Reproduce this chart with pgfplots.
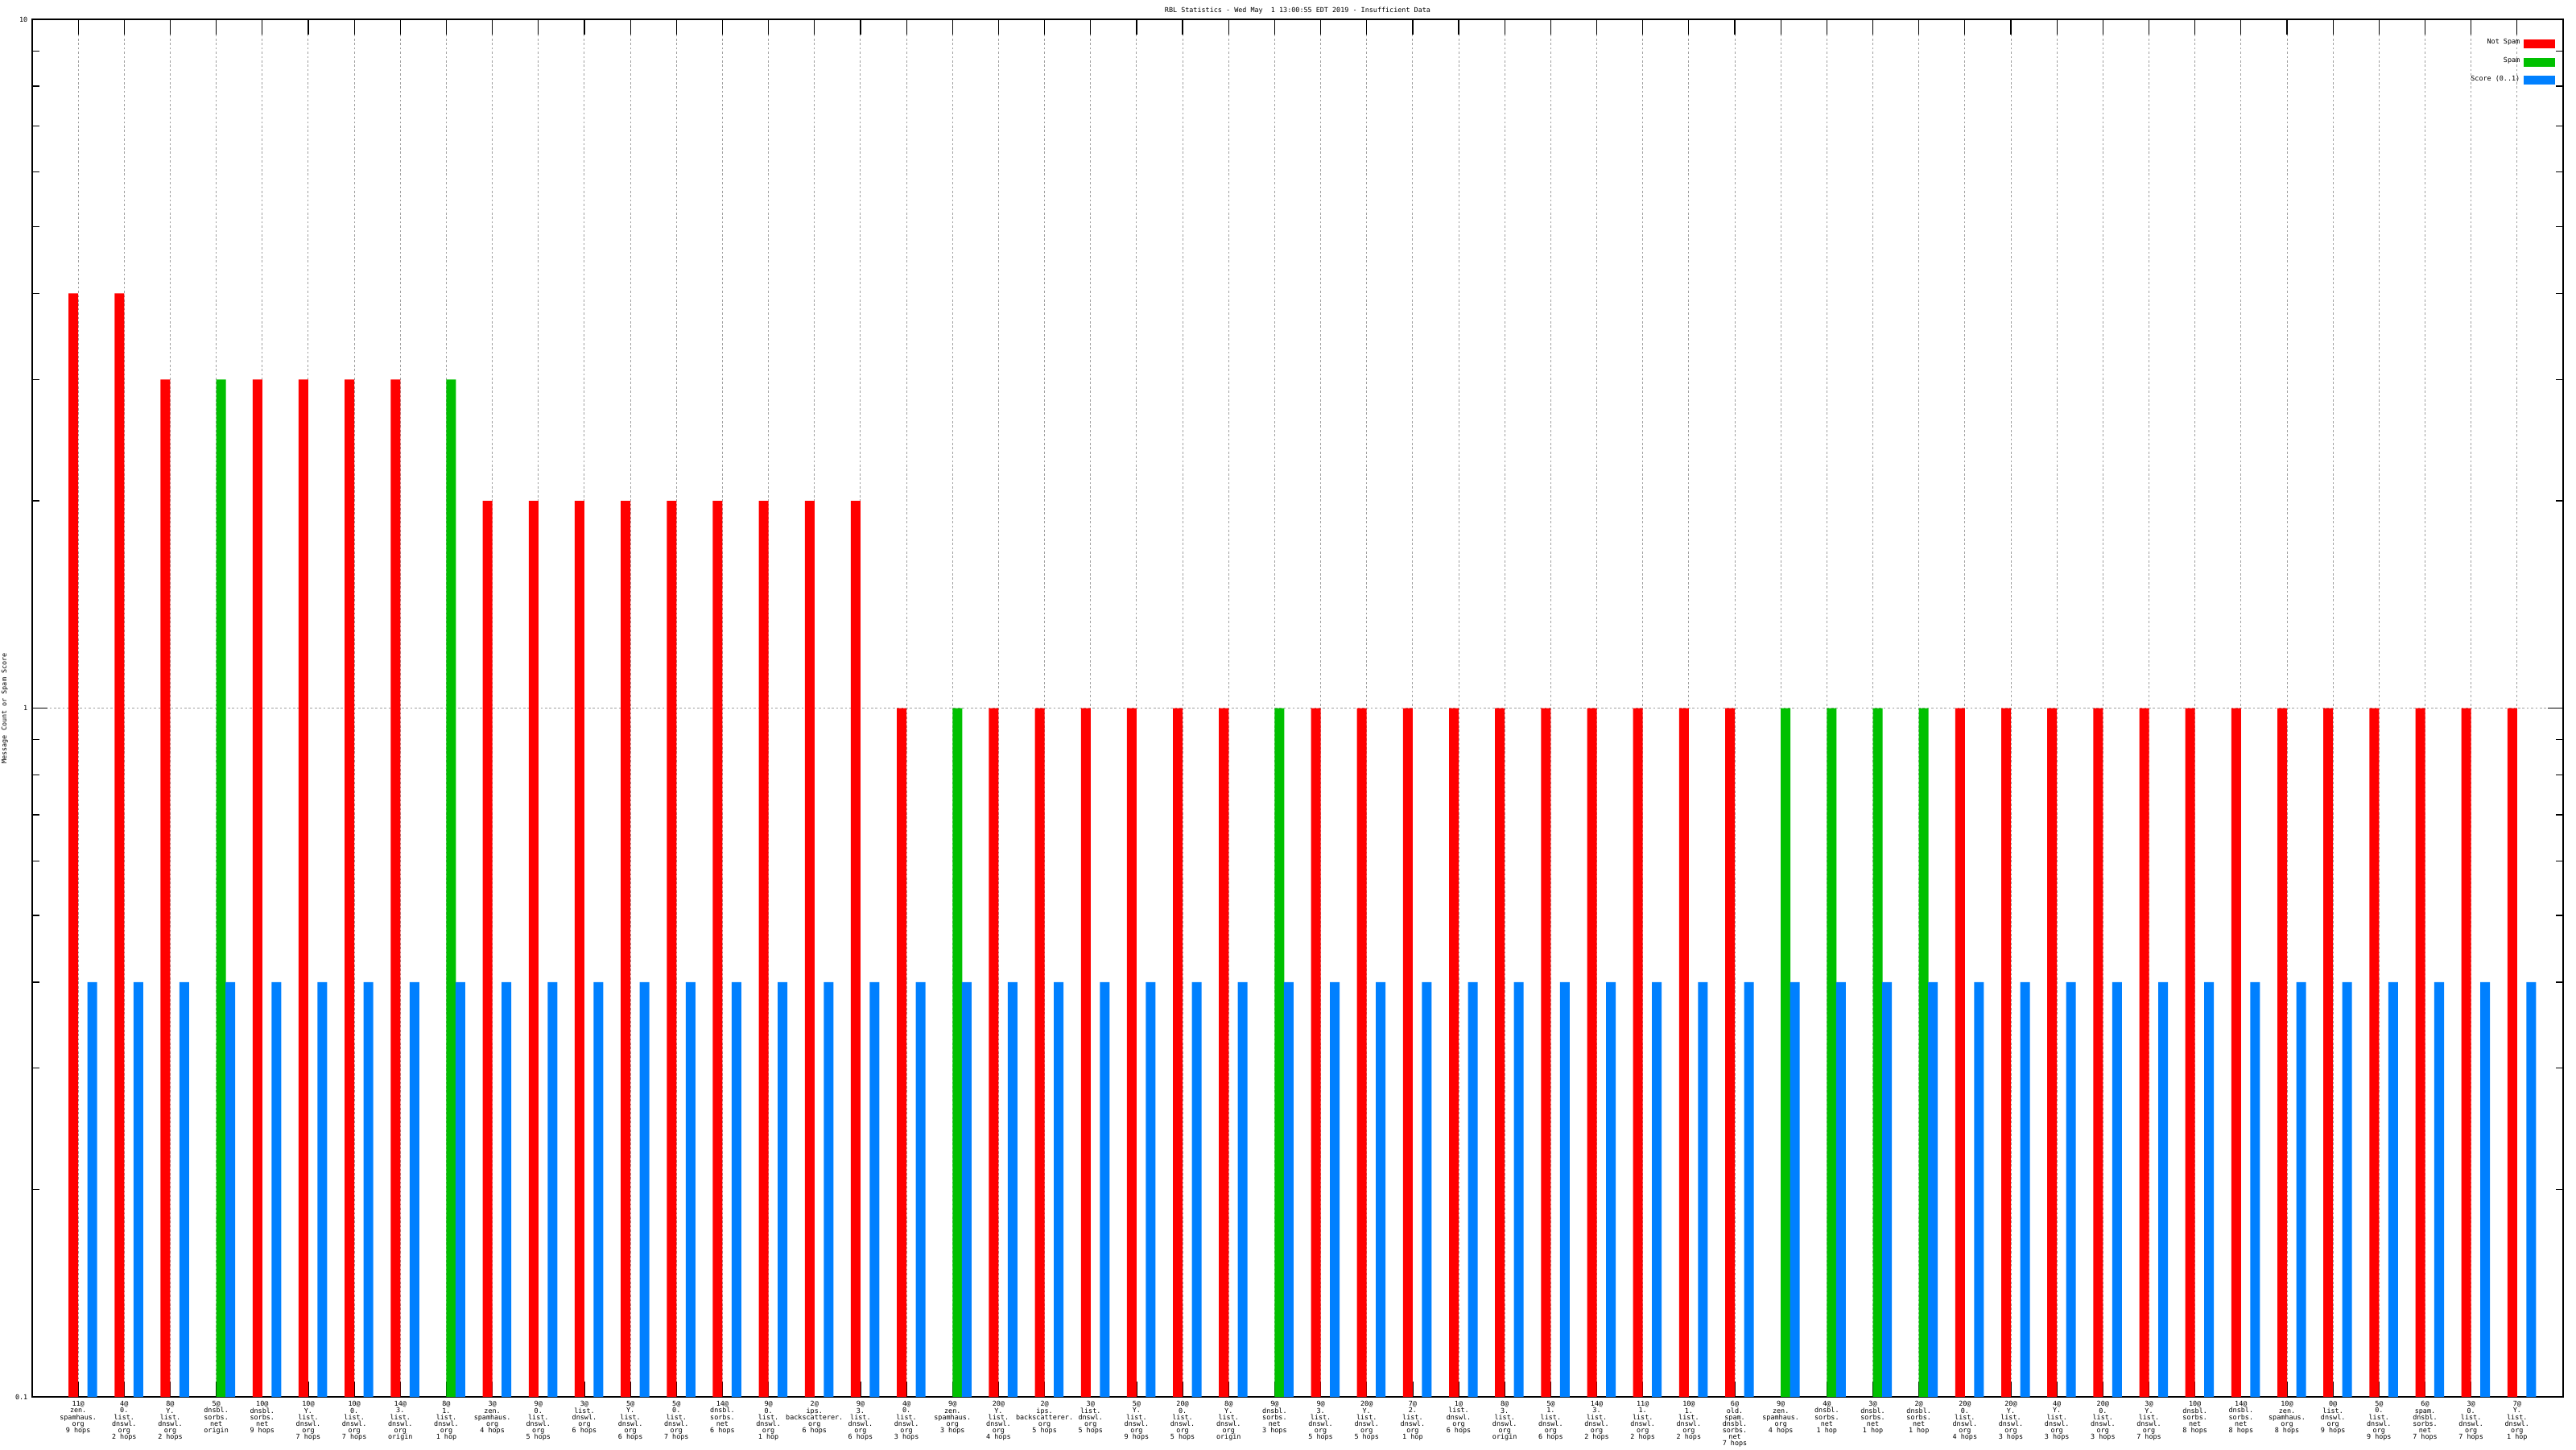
\documentclass[border=0pt]{standalone}
\usepackage{pgfplots}
\pgfplotsset{compat=1.18}
\usepackage{fontspec}
\newfontfamily\gp{DejaVu Sans Mono}
\definecolor{nsred}{RGB}{255,0,0}
\definecolor{spgreen}{RGB}{0,192,0}
\definecolor{scblue}{RGB}{0,128,255}
\definecolor{gridgray}{RGB}{160,160,160}
\newcommand{\tf}{\gp\fontsize{2.4pt}{2.3pt}\selectfont\lineskiplimit=-5pt\lineskip=0pt}
\begin{document}
\begin{tikzpicture}
\useasboundingbox (0,0) rectangle (32cm,18cm);
\begin{axis}[
  name=ax,
  at={(0.40cm,0.65cm)}, anchor=south west,
  scale only axis, width=31.44cm, height=17.11cm,
  ymode=log, log origin=infty,
  xmin=-1, xmax=54, ymin=0.1, ymax=10,
  enlargelimits=false,
  ybar, bar width=0.21,
  axis line style={line width=0.012cm},
  every tick/.style={line width=0.012cm, black},
  tick align=inside,
  major tick length=0.187cm, minor tick length=0.093cm,
  xtick={0,...,53},
  xticklabels={
{11@\\zen.\\spamhaus.\\org\\9 hops},
{4@\\0.\\list.\\dnswl.\\org\\2 hops},
{8@\\Y.\\list.\\dnswl.\\org\\2 hops},
{5@\\dnsbl.\\sorbs.\\net\\origin},
{10@\\dnsbl.\\sorbs.\\net\\9 hops},
{10@\\Y.\\list.\\dnswl.\\org\\7 hops},
{10@\\0.\\list.\\dnswl.\\org\\7 hops},
{14@\\3.\\list.\\dnswl.\\org\\origin},
{8@\\1.\\list.\\dnswl.\\org\\1 hop},
{3@\\zen.\\spamhaus.\\org\\4 hops},
{9@\\0.\\list.\\dnswl.\\org\\5 hops},
{3@\\list.\\dnswl.\\org\\6 hops},
{5@\\Y.\\list.\\dnswl.\\org\\6 hops},
{5@\\0.\\list.\\dnswl.\\org\\7 hops},
{14@\\dnsbl.\\sorbs.\\net\\6 hops},
{9@\\0.\\list.\\dnswl.\\org\\1 hop},
{2@\\ips.\\backscatterer.\\org\\6 hops},
{9@\\3.\\list.\\dnswl.\\org\\6 hops},
{4@\\0.\\list.\\dnswl.\\org\\3 hops},
{9@\\zen.\\spamhaus.\\org\\3 hops},
{20@\\Y.\\list.\\dnswl.\\org\\4 hops},
{2@\\ips.\\backscatterer.\\org\\5 hops},
{3@\\list.\\dnswl.\\org\\5 hops},
{5@\\Y.\\list.\\dnswl.\\org\\9 hops},
{20@\\0.\\list.\\dnswl.\\org\\5 hops},
{8@\\Y.\\list.\\dnswl.\\org\\origin},
{9@\\dnsbl.\\sorbs.\\net\\3 hops},
{9@\\3.\\list.\\dnswl.\\org\\5 hops},
{20@\\Y.\\list.\\dnswl.\\org\\5 hops},
{7@\\2.\\list.\\dnswl.\\org\\1 hop},
{1@\\list.\\dnswl.\\org\\6 hops},
{8@\\3.\\list.\\dnswl.\\org\\origin},
{5@\\1.\\list.\\dnswl.\\org\\6 hops},
{14@\\3.\\list.\\dnswl.\\org\\2 hops},
{11@\\1.\\list.\\dnswl.\\org\\2 hops},
{10@\\1.\\list.\\dnswl.\\org\\2 hops},
{6@\\old.\\spam.\\dnsbl.\\sorbs.\\net\\7 hops},
{9@\\zen.\\spamhaus.\\org\\4 hops},
{4@\\dnsbl.\\sorbs.\\net\\1 hop},
{3@\\dnsbl.\\sorbs.\\net\\1 hop},
{2@\\dnsbl.\\sorbs.\\net\\1 hop},
{20@\\0.\\list.\\dnswl.\\org\\4 hops},
{20@\\Y.\\list.\\dnswl.\\org\\3 hops},
{4@\\Y.\\list.\\dnswl.\\org\\3 hops},
{20@\\0.\\list.\\dnswl.\\org\\3 hops},
{3@\\Y.\\list.\\dnswl.\\org\\7 hops},
{10@\\dnsbl.\\sorbs.\\net\\8 hops},
{14@\\dnsbl.\\sorbs.\\net\\8 hops},
{10@\\zen.\\spamhaus.\\org\\8 hops},
{0@\\list.\\dnswl.\\org\\9 hops},
{5@\\0.\\list.\\dnswl.\\org\\9 hops},
{6@\\spam.\\dnsbl.\\sorbs.\\net\\7 hops},
{3@\\0.\\list.\\dnswl.\\org\\7 hops},
{7@\\Y.\\list.\\dnswl.\\org\\1 hop}},
  xticklabel style={font=\tf, align=center, anchor=north, inner sep=0pt, yshift=-0.05cm},
  ytick={0.1,1,10}, yticklabels={0.1,1,10},
  yticklabel style={font=\tf, anchor=east, inner sep=0pt, xshift=-0.05cm},
  xmajorgrids, ymajorgrids,
  major grid style={gridgray, line width=0.01cm, dash pattern=on 0.027cm off 0.027cm},
  legend plot pos=right,
  legend cell align=right,
  legend style={at={(1,1)}, anchor=north east, xshift=-0.09cm, yshift=-0.24cm,
    draw=none, fill=none, inner sep=0pt, row sep=0.11cm, column sep=0.05cm,
    font=\tf, nodes={inner sep=0pt}},
  area legend,
  legend image code/.code={\fill (0cm,-0.055cm) rectangle (0.39cm,0.055cm);},
]
\addplot[fill=nsred, draw=none, bar shift=-0.105] coordinates {
(0,4) (1,4) (2,3) (4,3) (5,3) (6,3) (7,3)
(9,2) (10,2) (11,2) (12,2) (13,2) (14,2) (15,2) (16,2) (17,2)
(18,1) (20,1) (21,1) (22,1) (23,1) (24,1) (25,1)
(27,1) (28,1) (29,1) (30,1) (31,1) (32,1) (33,1) (34,1) (35,1) (36,1)
(41,1) (42,1) (43,1) (44,1) (45,1) (46,1) (47,1) (48,1) (49,1) (50,1) (51,1) (52,1) (53,1)
};
\addlegendentry{Not Spam}
\addplot[fill=spgreen, draw=none, bar shift=0.105] coordinates {
(3,3) (8,3) (19,1) (26,1) (37,1) (38,1) (39,1) (40,1)
};
\addlegendentry{Spam}
\addplot[fill=scblue, draw=none, bar shift=0.306] coordinates {
(0,0.4) (1,0.4) (2,0.4) (3,0.4) (4,0.4) (5,0.4) (6,0.4) (7,0.4) (8,0.4) (9,0.4)
(10,0.4) (11,0.4) (12,0.4) (13,0.4) (14,0.4) (15,0.4) (16,0.4) (17,0.4) (18,0.4) (19,0.4)
(20,0.4) (21,0.4) (22,0.4) (23,0.4) (24,0.4) (25,0.4) (26,0.4) (27,0.4) (28,0.4) (29,0.4)
(30,0.4) (31,0.4) (32,0.4) (33,0.4) (34,0.4) (35,0.4) (36,0.4) (37,0.4) (38,0.4) (39,0.4)
(40,0.4) (41,0.4) (42,0.4) (43,0.4) (44,0.4) (45,0.4) (46,0.4) (47,0.4) (48,0.4) (49,0.4)
(50,0.4) (51,0.4) (52,0.4) (53,0.4)
};
\addlegendentry{Score (0..1)}
\end{axis}
\node[font=\tf, anchor=base, inner sep=0pt] at ([yshift=0.084cm]ax.north) {RBL Statistics - Wed May\ \ 1 13:00:55 EDT 2019 - Insufficient Data};
\node[font=\tf, anchor=center, inner sep=0pt, rotate=90] at (0.06cm,9.2cm) {Message Count or Spam Score};
\end{tikzpicture}
\end{document}
